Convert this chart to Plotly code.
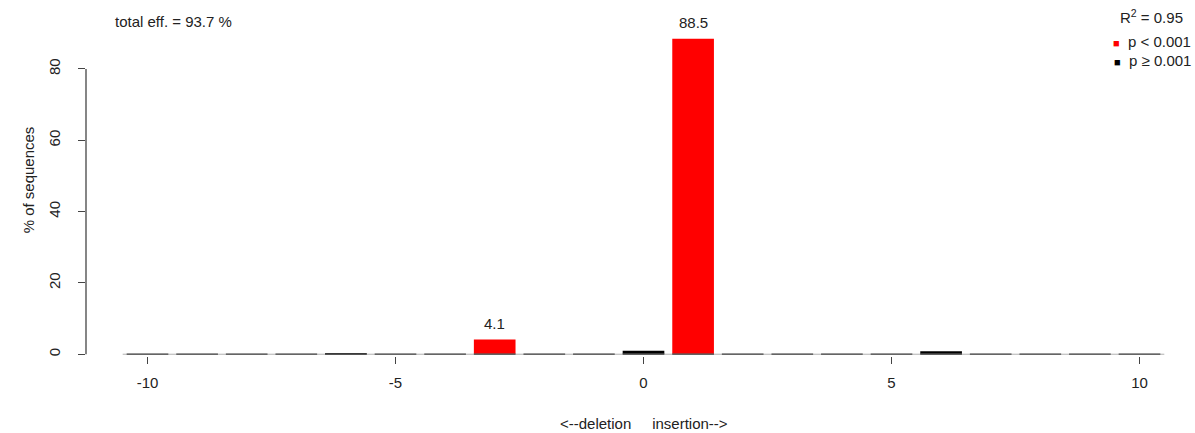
import plotly.graph_objects as go

# ---- data ----
positions = list(range(-10, 11))
values = [0, 0, 0, 0, 0.3, 0, 0, 4.1, 0, 0, 1.0, 88.5, 0, 0, 0, 0, 0.8, 0, 0, 0, 0]
significant = [False, False, False, False, False, False, False, True, False, False, False, True,
               False, False, False, False, False, False, False, False, False]
labelled = [4.1, 88.5]
x_ticks = [-10, -5, 0, 5, 10]
x_tick_labels = ["-10", "-5", "0", "5", "10"]
y_ticks = [0, 20, 40, 60, 80]
total_eff = 93.7
r_squared = 0.95

BAR_W = 0.84
FONT = "Liberation Sans, Arial, Helvetica, sans-serif"
TXT = "#222222"
FS = 15

W, H = 1195, 433
ML, MR, MT, MB = 86, 20, 23, 77
PX_PER_X = 49.6
X0_PX = 643.5
x_lo = (ML - X0_PX) / PX_PER_X
x_hi = (W - MR - X0_PX) / PX_PER_X
y_lo, y_hi = -0.5, 92.9

fig = go.Figure()

# baseline: thin gray line plus zero-height bar outlines
fig.add_trace(go.Scatter(x=[positions[0] - 0.5, positions[-1] + 0.5], y=[0, 0], mode="lines",
                         line=dict(color="#b0b0b0", width=1), hoverinfo="skip", showlegend=False))
seg_x, seg_y = [], []
for p in positions:
    seg_x += [p - BAR_W / 2, p + BAR_W / 2, None]
    seg_y += [0, 0, None]
fig.add_trace(go.Scatter(x=seg_x, y=seg_y, mode="lines", line=dict(color="#444444", width=1.3),
                         hoverinfo="skip", showlegend=False))

sig_x = [p for p, s in zip(positions, significant) if s]
sig_y = [v for v, s in zip(values, significant) if s]
ns_x = [p for p, s in zip(positions, significant) if not s]
ns_y = [v for v, s in zip(values, significant) if not s]

fig.add_trace(go.Bar(x=ns_x, y=ns_y, width=BAR_W, marker=dict(color="#000000", line=dict(width=0)),
                     name="p ≥ 0.001", showlegend=False))
fig.add_trace(go.Bar(x=sig_x, y=sig_y, width=BAR_W, marker=dict(color="#FF0000", line=dict(width=0)),
                     name="p < 0.001", showlegend=False))

# value labels
for p, v in zip(positions, values):
    if v in labelled:
        fig.add_annotation(x=p, y=v, text=f"{v}", showarrow=False, yanchor="bottom", yshift=6,
                           font=dict(family=FONT, size=FS, color=TXT))

# y axis line from 0 to 80 (R style)
fig.add_shape(type="line", xref="paper", yref="y", x0=0, x1=0, y0=y_ticks[0], y1=y_ticks[-1],
              line=dict(color="#444444", width=1.3))

px_to_paper_x = lambda px: (px - ML) / (W - ML - MR)
px_to_paper_y = lambda py: (H - MB - py) / (H - MT - MB)

fig.add_annotation(xref="paper", yref="paper", x=px_to_paper_x(113), y=px_to_paper_y(22),
                   xanchor="left", yanchor="middle", showarrow=False,
                   text=f"total eff. = {total_eff} %", font=dict(family=FONT, size=FS, color=TXT))

fig.add_annotation(xref="paper", yref="paper", x=px_to_paper_x(1185), y=px_to_paper_y(17),
                   xanchor="right", yanchor="middle", showarrow=False,
                   text=f"R<sup>2</sup> = {r_squared}", font=dict(family=FONT, size=FS, color=TXT))
fig.add_annotation(xref="paper", yref="paper", x=px_to_paper_x(1193), y=px_to_paper_y(41),
                   xanchor="right", yanchor="middle", showarrow=False,
                   text="<span style='color:#FF0000;font-size:11px'>■</span>  p < 0.001",
                   font=dict(family=FONT, size=FS, color=TXT))
fig.add_annotation(xref="paper", yref="paper", x=px_to_paper_x(1193), y=px_to_paper_y(60),
                   xanchor="right", yanchor="middle", showarrow=False,
                   text="<span style='color:#000000;font-size:11px'>■</span>  p ≥ 0.001",
                   font=dict(family=FONT, size=FS, color=TXT))

# axis titles
fig.add_annotation(xref="paper", yref="y", x=0, y=48.9, xshift=-68, textangle=-90, showarrow=False,
                   text="% of sequences", font=dict(family=FONT, size=FS, color=TXT))
fig.add_annotation(xref="x", yref="paper", x=0, y=px_to_paper_y(423), yanchor="middle", showarrow=False,
                   text="<--deletion\u00a0\u00a0\u00a0\u00a0\u00a0insertion-->",
                   font=dict(family=FONT, size=FS, color=TXT))

fig.update_layout(
    width=W, height=H, margin=dict(l=ML, r=MR, t=MT, b=MB),
    paper_bgcolor="white", plot_bgcolor="white", barmode="overlay",
    showlegend=False, font=dict(family=FONT, size=FS, color=TXT),
    xaxis=dict(range=[x_lo, x_hi], tickvals=x_ticks, ticktext=x_tick_labels, ticks="outside", ticklen=7,
               tickcolor="#444444", tickwidth=1.3, showline=False, showgrid=False, zeroline=False,
               ticklabelstandoff=6, tickfont=dict(family=FONT, size=FS, color=TXT)),
    yaxis=dict(range=[y_lo, y_hi], tickvals=y_ticks, ticks="outside", ticklen=7, tickcolor="#444444",
               tickwidth=1.3, showline=False, showgrid=False, zeroline=False, tickangle=-90,
               ticklabelstandoff=12, tickfont=dict(family=FONT, size=FS, color=TXT)),
)

fig.write_html("out.html", config={"displayModeBar": False},
               post_script="document.body.style.margin='0';")
